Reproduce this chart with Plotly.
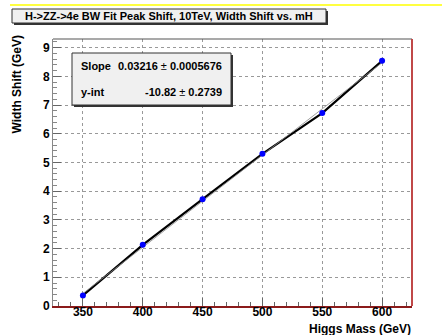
import plotly.graph_objects as go

# ---- data ----
higgs_mass = [350, 400, 450, 500, 550, 600]
width_shift = [0.37, 2.13, 3.72, 5.30, 6.72, 8.54]
fit_slope = 0.03216
fit_slope_err = 0.0005676
fit_intercept = -10.82
fit_intercept_err = 0.2739
x_tick_vals = [350, 400, 450, 500, 550, 600]
y_tick_vals = [0, 1, 2, 3, 4, 5, 6, 7, 8, 9]
title_text = "H->ZZ->4e BW Fit Peak Shift, 10TeV, Width Shift vs. mH"
x_title = "Higgs Mass (GeV)"
y_title = "Width Shift (GeV)"

W, H = 442, 335
ML, MR, MT, MB = 53, 30, 39, 29
PW = W - ML - MR
PH = H - MT - MB


def px(x):
    return (x - ML) / PW


def py(y):
    return (H - MB - y) / PH


FONT = "Arial"

fit_x = [min(higgs_mass), max(higgs_mass)]
fit_y = [fit_slope * v + fit_intercept for v in fit_x]

fig = go.Figure()
fig.add_trace(go.Scatter(x=higgs_mass, y=width_shift, mode="lines",
                         line=dict(color="black", width=2.2), hoverinfo="skip"))
fig.add_trace(go.Scatter(x=fit_x, y=fit_y, mode="lines",
                         line=dict(color="#888888", width=0.8), hoverinfo="skip"))
fig.add_trace(go.Scatter(x=higgs_mass, y=width_shift, mode="markers",
                         marker=dict(color="#0000ff", size=6, symbol="circle",
                                     line=dict(width=0))))

axis_common = dict(
    showgrid=True, gridcolor="#999999", griddash="dot", gridwidth=1,
    ticks="inside", ticklen=8, tickcolor="#666666", tickwidth=1,
    zeroline=False, showline=True,
    tickfont=dict(family=FONT, size=12, color="black"),
)

fig.update_layout(
    width=W, height=H,
    margin=dict(l=ML, r=MR, t=MT, b=MB, pad=0),
    paper_bgcolor="white", plot_bgcolor="white",
    showlegend=False,
    xaxis=dict(range=[325, 625], tickmode="array", tickvals=x_tick_vals,
               ticktext=[f"<b>{v}</b>" for v in x_tick_vals], ticklabelstandoff=-6,
               minor=dict(dtick=10, tick0=350, ticks="inside", ticklen=4, tickcolor="#666666", showgrid=False),
               linecolor="#8b1a1a", linewidth=1.5, **axis_common),
    yaxis=dict(range=[0, 9.3], tickmode="array", tickvals=y_tick_vals,
               ticktext=[f"<b>{v}</b>" for v in y_tick_vals],
               minor=dict(dtick=0.2, tick0=0, ticks="inside", ticklen=4, tickcolor="#888888", showgrid=False),
               linecolor="#888888", linewidth=1, **axis_common),
)

shapes = []
# top frame line and right frame line
shapes.append(dict(type="line", xref="paper", yref="paper", x0=0, x1=1, y0=1, y1=1,
                   line=dict(color="#555555", width=1.2)))
shapes.append(dict(type="line", xref="paper", yref="paper", x0=1, x1=1, y0=0, y1=1,
                   line=dict(color="#c04848", width=2)))
# yellow line at top
shapes.append(dict(type="line", xref="paper", yref="paper", x0=px(10), x1=px(442),
                   y0=py(5), y1=py(5), line=dict(color="#ffff00", width=1.5)))


def box(x0, y0, x1, y1):
    # shadow
    shapes.append(dict(type="rect", xref="paper", yref="paper",
                       x0=px(x0 + 2), x1=px(x1 + 2), y0=py(y1 + 2), y1=py(y0 + 2),
                       fillcolor="#333333", line=dict(width=0)))
    shapes.append(dict(type="rect", xref="paper", yref="paper",
                       x0=px(x0), x1=px(x1), y0=py(y1), y1=py(y0),
                       fillcolor="#f0f0f0", line=dict(color="#333333", width=1)))


box(12, 9, 326, 23)
box(72, 53, 231, 105)
fig.update_layout(shapes=shapes)

ann = []
fnt = lambda s: dict(family=FONT, size=s, color="black")
B = lambda t: f"<b>{t}</b>"
ann.append(dict(text=B(title_text), xref="paper", yref="paper", x=px(169), y=py(16),
                xanchor="center", yanchor="middle", showarrow=False, font=fnt(11)))
ann.append(dict(text=B("Slope"), xref="paper", yref="paper", x=px(79), y=py(66),
                xanchor="left", yanchor="middle", showarrow=False, font=fnt(11)))
ann.append(dict(text=B("y-int"), xref="paper", yref="paper", x=px(79), y=py(92),
                xanchor="left", yanchor="middle", showarrow=False, font=fnt(11)))
ann.append(dict(text=f"<b>{fit_slope}</b> ± <b>{fit_slope_err}</b>", xref="paper", yref="paper",
                x=px(224), y=py(66), xanchor="right", yanchor="middle",
                showarrow=False, font=fnt(11)))
ann.append(dict(text=f"<b>{fit_intercept}</b> ± <b>{fit_intercept_err}</b>", xref="paper", yref="paper",
                x=px(224), y=py(92), xanchor="right", yanchor="middle",
                showarrow=False, font=fnt(11)))
ann.append(dict(text=B(x_title), xref="paper", yref="paper", x=px(413), y=py(329),
                xanchor="right", yanchor="middle", showarrow=False, font=fnt(12)))
ann.append(dict(text=B(y_title), xref="paper", yref="paper", x=px(17), y=py(33),
                xanchor="center", yanchor="top", textangle=-90, showarrow=False,
                font=fnt(12)))
fig.update_layout(annotations=ann)

fig.write_html("out.html")
